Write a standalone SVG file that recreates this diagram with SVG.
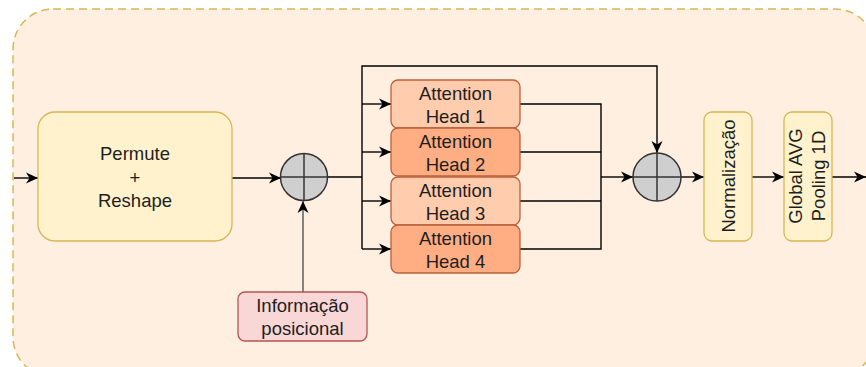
<svg xmlns="http://www.w3.org/2000/svg" width="866" height="367" viewBox="0 0 866 367">
<defs>
<marker id="arr" markerUnits="userSpaceOnUse" markerWidth="14" markerHeight="14" refX="12" refY="7" orient="auto" overflow="visible">
<path d="M0,1.5 L12,7 L0,12.5 L3.5,7 Z" fill="#000"/>
</marker>
<style>
.t{font-family:"Liberation Sans",Arial,sans-serif;font-size:18.5px;fill:#1e1e1e;text-anchor:middle}
.ln{fill:none;stroke:#000;stroke-width:1.4}
.hd{stroke:#b9613b;stroke-width:1.3}
.h1{fill:#ffccad}
.h2{fill:#ffae84}
.yl{fill:#fff2cc;stroke:#d6b656;stroke-width:1.3}
.sum{fill:#cfcfcf;stroke:#333;stroke-width:1.5}
</style>
</defs>
<rect x="13" y="9" width="862" height="368" rx="40" fill="#ffefe0" stroke="#d6b656" stroke-width="1.5" stroke-dasharray="8 5"/>

<g id="connectors">
<line class="ln" x1="14" y1="178" x2="38" y2="178" marker-end="url(#arr)"/>
<line class="ln" x1="232" y1="178" x2="281" y2="178" marker-end="url(#arr)"/>
<line class="ln" x1="303" y1="292" x2="303" y2="201" marker-end="url(#arr)" style="stroke:#555"/>
<polyline class="ln" points="327,177 362,177"/>
<polyline class="ln" points="362,249 362,66 657,66 657,153" marker-end="url(#arr)"/>
<line class="ln" x1="362" y1="104" x2="391" y2="104" marker-end="url(#arr)"/>
<line class="ln" x1="362" y1="152" x2="391" y2="152" marker-end="url(#arr)"/>
<line class="ln" x1="362" y1="201" x2="391" y2="201" marker-end="url(#arr)"/>
<line class="ln" x1="362" y1="249" x2="391" y2="249" marker-end="url(#arr)"/>
<polyline class="ln" points="520,104 601,104 601,249 520,249"/>
<line class="ln" x1="520" y1="152" x2="601" y2="152"/>
<line class="ln" x1="520" y1="201" x2="601" y2="201"/>
<line class="ln" x1="601" y1="177" x2="633" y2="177" marker-end="url(#arr)"/>
<line class="ln" x1="681" y1="177" x2="704" y2="177" marker-end="url(#arr)"/>
<line class="ln" x1="752" y1="177" x2="784" y2="177" marker-end="url(#arr)"/>
<line class="ln" x1="832" y1="177" x2="866" y2="177" marker-end="url(#arr)"/>
</g>

<g id="permute">
<rect class="yl" x="38" y="112" width="194" height="129" rx="17"/>
<text class="t" x="135" y="160">Permute</text>
<text class="t" x="135" y="183.5">+</text>
<text class="t" x="135" y="207">Reshape</text>
</g>

<g id="sum1">
<circle class="sum" cx="304" cy="177" r="23.5"/>
<line x1="280.5" y1="177" x2="327.5" y2="177" stroke="#333" stroke-width="1.5"/>
<line x1="304" y1="153.5" x2="304" y2="200.5" stroke="#333" stroke-width="1.5"/>
</g>

<g id="info">
<rect x="238" y="292" width="129" height="49" rx="7" fill="#f8d7d6" stroke="#b85450" stroke-width="1.3"/>
<text class="t" x="302.5" y="312">Informação</text>
<text class="t" x="302.5" y="335">posicional</text>
</g>

<g id="head1">
<rect class="hd h1" x="391" y="80" width="129" height="48" rx="7"/>
<text class="t" x="455.5" y="100">Attention</text>
<text class="t" x="455.5" y="123">Head 1</text>
</g>
<g id="head2">
<rect class="hd h2" x="391" y="128" width="129" height="48" rx="7"/>
<text class="t" x="455.5" y="148">Attention</text>
<text class="t" x="455.5" y="171">Head 2</text>
</g>
<g id="head3">
<rect class="hd h1" x="391" y="177" width="129" height="48" rx="7"/>
<text class="t" x="455.5" y="197">Attention</text>
<text class="t" x="455.5" y="220">Head 3</text>
</g>
<g id="head4">
<rect class="hd h2" x="391" y="225" width="129" height="48" rx="7"/>
<text class="t" x="455.5" y="245">Attention</text>
<text class="t" x="455.5" y="268">Head 4</text>
</g>

<g id="sum2">
<circle class="sum" cx="657" cy="177" r="24"/>
<line x1="633" y1="177" x2="681" y2="177" stroke="#333" stroke-width="1.5"/>
<line x1="657" y1="153" x2="657" y2="201" stroke="#333" stroke-width="1.5"/>
</g>

<g id="norm">
<rect class="yl" x="704" y="112" width="48" height="129" rx="8"/>
<text class="t" transform="translate(735,176) rotate(-90)">Normalização</text>
</g>

<g id="gap">
<rect class="yl" x="784" y="112" width="48" height="129" rx="8"/>
<text class="t" transform="translate(802,176) rotate(-90)">Global AVG</text>
<text class="t" transform="translate(825,176) rotate(-90)">Pooling 1D</text>
</g>
</svg>
